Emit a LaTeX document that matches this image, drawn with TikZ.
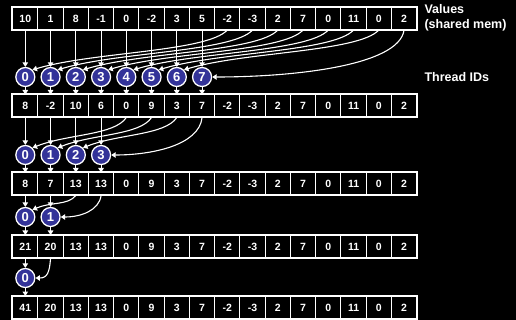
\documentclass[tikz,border=0pt]{standalone}
\usepackage{fontspec}
\setmainfont{Liberation Sans}
\usetikzlibrary{arrows.meta}

\begin{document}
\begin{tikzpicture}[x=1pt,y=-1pt,>={Triangle[width=5.5pt,length=4.5pt]}]
    \definecolor{tid}{RGB}{51,51,153}
    \tikzset{
        cell/.style={draw=white,line width=1pt,minimum width=25.25pt,minimum height=22pt,
            inner sep=0pt,text=white,font=\fontsize{10.5}{11}\selectfont\bfseries},
        thread/.style={circle,draw=white,line width=1.3pt,fill=tid,minimum size=19pt,
            inner sep=0pt,text=white,font=\fontsize{13}{13}\selectfont\bfseries},
        link/.style={->,white,line width=1.1pt},
        lbl/.style={anchor=west,align=left,text=white,font=\fontsize{12.5}{15}\selectfont\bfseries}
    }
    \fill[black] (0,0) rectangle (516,320);
    % the five states of the array
    \foreach \r/\y/\vals in {1/18.5/{10,1,8,-1,0,-2,3,5,-2,-3,2,7,0,11,0,2},
                             2/106/{8,-2,10,6,0,9,3,7,-2,-3,2,7,0,11,0,2},
                             3/184/{8,7,13,13,0,9,3,7,-2,-3,2,7,0,11,0,2},
                             4/246.5/{21,20,13,13,0,9,3,7,-2,-3,2,7,0,11,0,2},
                             5/307.5/{41,20,13,13,0,9,3,7,-2,-3,2,7,0,11,0,2}}{
        \foreach \v [count=\i from 0] in \vals
            \node[cell] (v\r-\i) at (25.325+25.25*\i,\y) {\v};
        \draw[white,line width=2pt] (v\r-0.north west) rectangle (v\r-15.south east);
    }
    \node[lbl] (vals) at (421,18) {Values\\(shared mem)};
    \node[lbl] (tids) at (421,77) {Thread IDs};
    % step 1: 8 threads
    \foreach \i in {0,...,7}
        \node[thread] (t1-\i) at (25.325+25.25*\i,77) {\i};
    \foreach \i in {0,...,7}{
        \draw[link] (v1-\i) -- (t1-\i);
        \draw[link] (t1-\i) -- (v2-\i);
    }
    \foreach \i [evaluate=\i as \j using int(\i+8)] in {0,...,6}
        \draw[link] (v1-\j.south) .. controls +(-20,22) and +(60,-18) .. (t1-\i.north east);
    \draw[link] (v1-15.south) .. controls +(-5,36) and +(80,0) .. (t1-7.east);
    % step 2: 4 threads
    \foreach \i in {0,...,3}
        \node[thread] (t2-\i) at (25.325+25.25*\i,155) {\i};
    \foreach \i in {0,...,3}{
        \draw[link] (v2-\i) -- (t2-\i);
        \draw[link] (t2-\i) -- (v3-\i);
    }
    \foreach \i [evaluate=\i as \j using int(\i+4)] in {0,...,2}
        \draw[link] (v2-\j.south) .. controls +(-12,18) and +(35,-14) .. (t2-\i.north east);
    \draw[link] (v2-7.south) .. controls +(-3,28) and +(40,0) .. (t2-3.east);
    % step 3: 2 threads
    \foreach \i in {0,1}
        \node[thread] (t3-\i) at (25.325+25.25*\i,217) {\i};
    \foreach \i in {0,1}{
        \draw[link] (v3-\i) -- (t3-\i);
        \draw[link] (t3-\i) -- (v4-\i);
    }
    \draw[link] (v3-2.south) .. controls +(-8,10) and +(18,-8) .. (t3-0.north east);
    \draw[link] (v3-3.south) .. controls +(-2,15) and +(20,0) .. (t3-1.east);
    % step 4: 1 thread
    \node[thread] (t4-0) at (25.325,278) {0};
    \draw[link] (v4-0) -- (t4-0);
    \draw[link] (t4-0) -- (v5-0);
    \draw[link] (v4-1.south) .. controls +(-1,14) and +(12,0) .. (t4-0.east);
    \useasboundingbox (0,0) rectangle (516,320);
\end{tikzpicture}
\end{document}
